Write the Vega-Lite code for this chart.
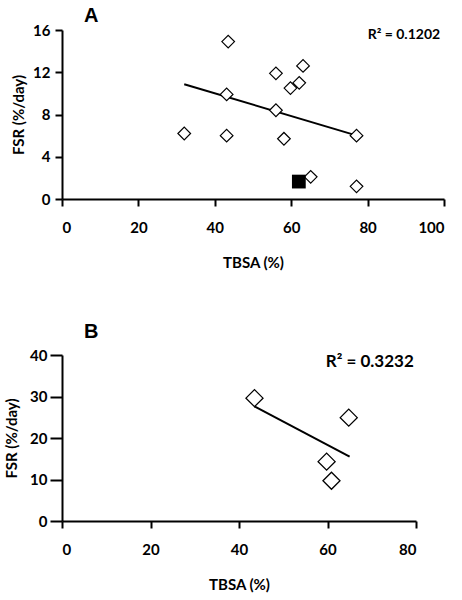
{
  "$schema": "https://vega.github.io/schema/vega-lite/v6.json",
  "padding": {"left": 4, "top": 6, "right": 2, "bottom": 2},
  "background": "white",
  "bounds": "flush",
  "spacing": 156,
  "datasets": {
    "a": [
      {"tbsa": 32.0, "fsr": 6.2, "group": "open"},
      {"tbsa": 43.5, "fsr": 14.9, "group": "open"},
      {"tbsa": 43.1, "fsr": 9.9, "group": "open"},
      {"tbsa": 43.1, "fsr": 6.0, "group": "open"},
      {"tbsa": 56.0, "fsr": 11.9, "group": "open"},
      {"tbsa": 56.0, "fsr": 8.4, "group": "open"},
      {"tbsa": 58.1, "fsr": 5.7, "group": "open"},
      {"tbsa": 59.8, "fsr": 10.5, "group": "open"},
      {"tbsa": 62.1, "fsr": 11.0, "group": "open"},
      {"tbsa": 63.1, "fsr": 12.6, "group": "open"},
      {"tbsa": 65.1, "fsr": 2.1, "group": "open"},
      {"tbsa": 77.1, "fsr": 6.0, "group": "open"},
      {"tbsa": 77.1, "fsr": 1.2, "group": "open"},
      {"tbsa": 62.0, "fsr": 1.65, "group": "filled"}
    ],
    "aTrend": [
      {"tbsa": 32.0, "fsr": 10.87},
      {"tbsa": 77.0, "fsr": 6.02}
    ],
    "aLabel": [{"label": "R² = 0.1202"}],
    "b": [
      {"tbsa": 43.5, "fsr": 29.6},
      {"tbsa": 64.8, "fsr": 24.9},
      {"tbsa": 59.8, "fsr": 14.3},
      {"tbsa": 60.9, "fsr": 9.7}
    ],
    "bTrend": [
      {"tbsa": 43.5, "fsr": 27.6},
      {"tbsa": 65.0, "fsr": 15.5}
    ],
    "bLabel": [{"label": "R² = 0.3232"}]
  },
  "config": {
    "view": {"stroke": null},
    "axis": {
      "grid": false,
      "domainColor": "black",
      "domainWidth": 2,
      "tickColor": "black",
      "tickWidth": 2,
      "labelFont": "Lato",
      "labelFontWeight": "bold",
      "labelFontSize": 15,
      "labelColor": "black",
      "titleFont": "Lato",
      "titleFontWeight": "bold",
      "titleFontSize": 15,
      "titleColor": "black"
    },
    "axisX": {"tickSize": 7, "labelPadding": 14, "titlePadding": 20},
    "axisY": {"labelPadding": 5},
    "title": {"font": "Liberation Sans", "fontWeight": "bold", "fontSize": 20, "color": "black", "anchor": "start", "frame": "group"}
  },
  "vconcat": [
    {
      "width": 382,
      "height": 169,
      "title": {"text": "A", "dx": 22, "offset": -3},
      "layer": [
        {
          "data": {"name": "aTrend"},
          "mark": {"type": "line", "color": "black", "strokeWidth": 2},
          "encoding": {
            "x": {"field": "tbsa", "type": "quantitative"},
            "y": {"field": "fsr", "type": "quantitative"}
          }
        },
        {
          "data": {"name": "a"},
          "transform": [{"filter": "datum.group === 'open'"}],
          "mark": {"type": "point", "shape": "diamond", "size": 160, "filled": true, "fill": "white", "stroke": "black", "strokeWidth": 1.2, "opacity": 1},
          "encoding": {
            "x": {"field": "tbsa", "type": "quantitative", "title": "TBSA (%)", "scale": {"domain": [0, 100], "nice": false}, "axis": {"values": [0, 20, 40, 60, 80, 100]}},
            "y": {"field": "fsr", "type": "quantitative", "title": "FSR (%/day)", "scale": {"domain": [0, 16], "nice": false}, "axis": {"values": [0, 4, 8, 12, 16], "tickSize": 7, "titlePadding": 6}}
          }
        },
        {
          "data": {"name": "a"},
          "transform": [{"filter": "datum.group === 'filled'"}],
          "mark": {"type": "point", "shape": "square", "size": 190, "filled": true, "color": "black", "opacity": 1},
          "encoding": {
            "x": {"field": "tbsa", "type": "quantitative"},
            "y": {"field": "fsr", "type": "quantitative"}
          }
        },
        {
          "data": {"name": "aLabel"},
          "mark": {"type": "text", "align": "right", "baseline": "middle", "font": "Lato", "fontWeight": "bold", "fontSize": 14, "color": "black"},
          "encoding": {
            "text": {"field": "label"},
            "x": {"datum": 99},
            "y": {"datum": 15.5}
          }
        }
      ]
    },
    {
      "width": 354,
      "height": 166,
      "title": {"text": "B", "dx": 22, "offset": 6},
      "layer": [
        {
          "data": {"name": "bTrend"},
          "mark": {"type": "line", "color": "black", "strokeWidth": 2},
          "encoding": {
            "x": {"field": "tbsa", "type": "quantitative"},
            "y": {"field": "fsr", "type": "quantitative"}
          }
        },
        {
          "data": {"name": "b"},
          "mark": {"type": "point", "shape": "diamond", "size": 290, "filled": true, "fill": "white", "stroke": "black", "strokeWidth": 1.3, "opacity": 1},
          "encoding": {
            "x": {"field": "tbsa", "type": "quantitative", "title": "TBSA (%)", "scale": {"domain": [0, 80], "nice": false}, "axis": {"values": [0, 20, 40, 60, 80]}},
            "y": {"field": "fsr", "type": "quantitative", "title": "FSR (%/day)", "scale": {"domain": [0, 40], "nice": false}, "axis": {"values": [0, 10, 20, 30, 40], "tickSize": 12, "labelPadding": 3, "titlePadding": 10}}
          }
        },
        {
          "data": {"name": "bLabel"},
          "mark": {"type": "text", "align": "right", "baseline": "middle", "font": "Lato", "fontWeight": "bold", "fontSize": 17, "color": "black"},
          "encoding": {
            "text": {"field": "label"},
            "x": {"datum": 79.5},
            "y": {"datum": 38.3}
          }
        }
      ]
    }
  ]
}
